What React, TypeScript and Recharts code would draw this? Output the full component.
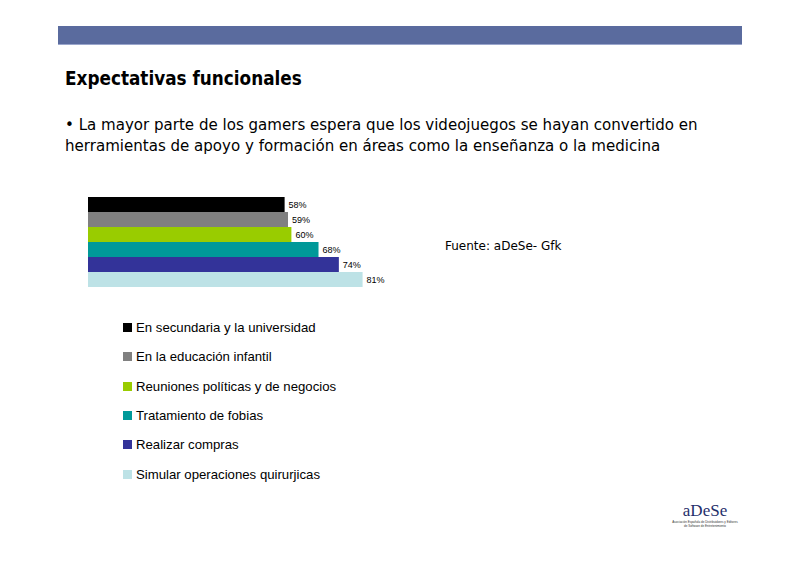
import React from 'react';
import { BarChart, Bar, XAxis, YAxis, LabelList } from 'recharts';

// Series (one per expectation), drawn as a single clustered group
const seriesNames = [
  'En secundaria y la universidad',
  'En la educación infantil',
  'Reuniones políticas y de negocios',
  'Tratamiento de fobias',
  'Realizar compras',
  'Simular operaciones quirurjicas',
];
const seriesValues = [58, 59, 60, 68, 74, 81];
const seriesColors = ['#000000', '#808080', '#99CC00', '#009999', '#333399', '#BDE2E6'];
const groupName = 'Expectativas';

const keys = seriesNames.map((_, i) => `s${i}`);
const row: Record<string, string | number> = { name: groupName };
keys.forEach((k, i) => {
  row[k] = seriesValues[i];
});
const chartData = [row];

const textFont = '"DejaVu Sans", Verdana, sans-serif';
const arialFont = '"Liberation Sans", Arial, sans-serif';

export default function App() {
  return (
    <div
      style={{
        position: 'absolute',
        left: 0,
        top: 0,
        width: 800,
        height: 565,
        background: '#ffffff',
        overflow: 'hidden',
      }}
    >
      {/* header band */}
      <div style={{ position: 'absolute', left: 58, top: 26, width: 684, height: 18, background: '#5A6B9E' }} />
      <div style={{ position: 'absolute', left: 58, top: 44, width: 684, height: 1, background: '#9AA6CC' }} />

      <div
        style={{
          position: 'absolute',
          left: 65,
          top: 66,
          fontFamily: textFont,
          fontWeight: 'bold',
          fontSize: 20,
          color: '#000',
          whiteSpace: 'nowrap',
          transform: 'scaleX(0.843)',
          transformOrigin: 'left top',
        }}
      >
        Expectativas funcionales
      </div>
      <div
        style={{
          position: 'absolute',
          left: 65,
          top: 114,
          fontFamily: textFont,
          fontSize: 16.5,
          lineHeight: '21px',
          color: '#000',
          whiteSpace: 'nowrap',
          transform: 'scaleX(0.912)',
          transformOrigin: 'left top',
        }}
      >
        • La mayor parte de los gamers espera que los videojuegos se hayan convertido en
        <br />
        herramientas de apoyo y formación en áreas como la enseñanza o la medicina
      </div>

      <div
        style={{
          position: 'absolute',
          left: 445,
          top: 239,
          fontFamily: textFont,
          fontSize: 12,
          color: '#000',
          whiteSpace: 'nowrap',
        }}
      >
        Fuente: aDeSe- Gfk
      </div>

      <div style={{ position: 'absolute', left: 0, top: 0 }}>
        <BarChart
          width={800}
          height={565}
          data={chartData}
          layout="vertical"
          margin={{ top: 197, right: 373, bottom: 278, left: 88 }}
          barCategoryGap={0}
          barGap={0}
        >
          <XAxis type="number" domain={[0, 100]} hide />
          <YAxis type="category" dataKey="name" hide />
          {keys.map((k, i) => (
            <Bar key={k} dataKey={k} name={seriesNames[i]} fill={seriesColors[i]} isAnimationActive={false}>
              <LabelList
                dataKey={k}
                position="right"
                offset={4}
                formatter={(v: number) => `${v}%`}
                style={{ fontFamily: arialFont, fontSize: 9, fill: '#000' }}
              />
            </Bar>
          ))}
        </BarChart>
      </div>

      {/* legend */}
      <div style={{ position: 'absolute', left: 123, top: 313 }}>
        {seriesNames.map((n, i) => (
          <div
            key={n}
            style={{
              display: 'flex',
              alignItems: 'center',
              height: 29.3,
              fontFamily: arialFont,
              fontSize: 13.2,
              color: '#000',
              whiteSpace: 'nowrap',
            }}
          >
            <span
              style={{
                display: 'inline-block',
                width: 9,
                height: 9,
                background: seriesColors[i],
                marginRight: 4,
              }}
            />
            {n}
          </div>
        ))}
      </div>

      {/* logo */}
      <div
        style={{
          position: 'absolute',
          left: 660,
          top: 502,
          width: 90,
          textAlign: 'center',
          color: '#1F2F6B',
        }}
      >
        <div style={{ fontFamily: '"Liberation Serif", serif', fontSize: 17, lineHeight: '18px' }}>aDeSe</div>
        <div style={{ fontFamily: arialFont, fontSize: 3, lineHeight: '4px', color: '#333' }}>
          Asociación Española de Distribuidores y Editores
          <br />
          de Software de Entretenimiento
        </div>
      </div>
    </div>
  );
}
